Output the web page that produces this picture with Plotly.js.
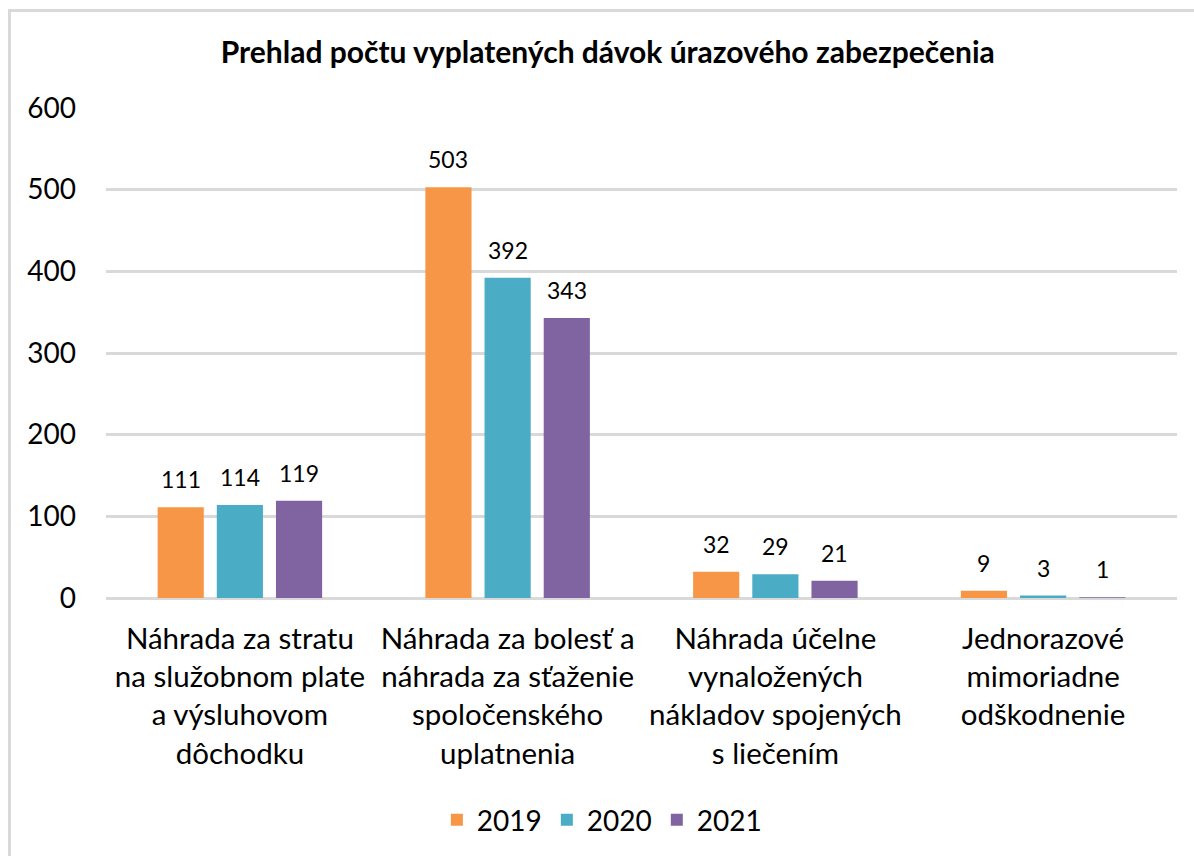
<!DOCTYPE html>
<html>
<head>
<meta charset="utf-8">
<script src="https://cdn.plot.ly/plotly-3.0.1.min.js"></script>
<style>
  html, body { margin: 0; padding: 0; background: #fff; overflow: hidden; }
  #chart { width: 1194px; height: 856px; position: relative; }
  #frame { position: absolute; left: 8px; top: 9px; width: 1400px; height: 1200px;
           border: 3px solid #d9d9d9; pointer-events: none; box-sizing: border-box; }
</style>
</head>
<body>
<div id="chart"></div>
<div id="frame"></div>
<script>
const categories = [
  "Náhrada za stratu<br>na služobnom plate<br>a výsluhovom<br>dôchodku",
  "Náhrada za bolesť a<br>náhrada za sťaženie<br>spoločenského<br>uplatnenia",
  "Náhrada účelne<br>vynaložených<br>nákladov spojených<br>s liečením",
  "Jednorazové<br>mimoriadne<br>odškodnenie"
];
const years = ["2019", "2020", "2021"];
const values2019 = [111, 503, 32, 9];
const values2020 = [114, 392, 29, 3];
const values2021 = [119, 343, 21, 1];
const colors = ["#F79646", "#4BACC6", "#8064A2"];
const titleText = "Prehlad počtu vyplatených dávok úrazového zabezpečenia";

const font = "Lato, 'Noto Sans', sans-serif";
const bargap = 0.337;
const series = [values2019, values2020, values2021];
const traces = series.map((vals, i) => ({
  type: "bar",
  name: years[i],
  x: categories,
  y: vals,
  marker: { color: colors[i] },
  hoverinfo: "skip"
}));

// data labels above each bar, positioned at the bar's slot in category units
const slot = (1 - bargap) / series.length;
const annotations = [];
series.forEach((vals, j) => {
  vals.forEach((v, i) => {
    annotations.push({
      xref: "x", yref: "y",
      x: i + (j - (series.length - 1) / 2) * slot,
      y: v,
      text: String(v),
      showarrow: false,
      yanchor: "bottom",
      yshift: 12,
      font: { family: font, size: 23, color: "#000" }
    });
  });
});

const layout = {
  width: 1194,
  height: 856,
  margin: { l: 106, r: 17, t: 108, b: 257 },
  paper_bgcolor: "#fff",
  plot_bgcolor: "#fff",
  font: { family: font, color: "#000" },
  title: {
    text: "<b>" + titleText + "</b>",
    font: { family: font, size: 30, color: "#000" },
    x: 0.509, xanchor: "center",
    y: 1 - 52 / 856, yanchor: "middle"
  },
  barmode: "group",
  bargap: bargap,
  bargroupgap: 0.22,
  showlegend: true,
  legend: {
    orientation: "h",
    x: 0.463, xanchor: "center",
    y: -(820 - 599) / 491, yanchor: "middle",
    font: { family: font, size: 28, color: "#000" },
    itemwidth: 30,
    traceorder: "normal"
  },
  annotations: annotations,
  xaxis: {
    tickfont: { family: font, size: 29.5, color: "#000" },
    showline: false,
    ticks: "",
    ticklabelstandoff: 20
  },
  yaxis: {
    range: [0, 600],
    dtick: 100,
    tick0: 0,
    showgrid: true,
    gridcolor: "#d9d9d9",
    gridwidth: 3,
    zeroline: true,
    zerolinecolor: "#d9d9d9",
    zerolinewidth: 3,
    showline: false,
    ticks: "",
    tickfont: { family: font, size: 28, color: "#000" },
    ticklabelstandoff: 29
  }
};

Plotly.newPlot("chart", traces, layout, { displayModeBar: false, staticPlot: true });
</script>
</body>
</html>
